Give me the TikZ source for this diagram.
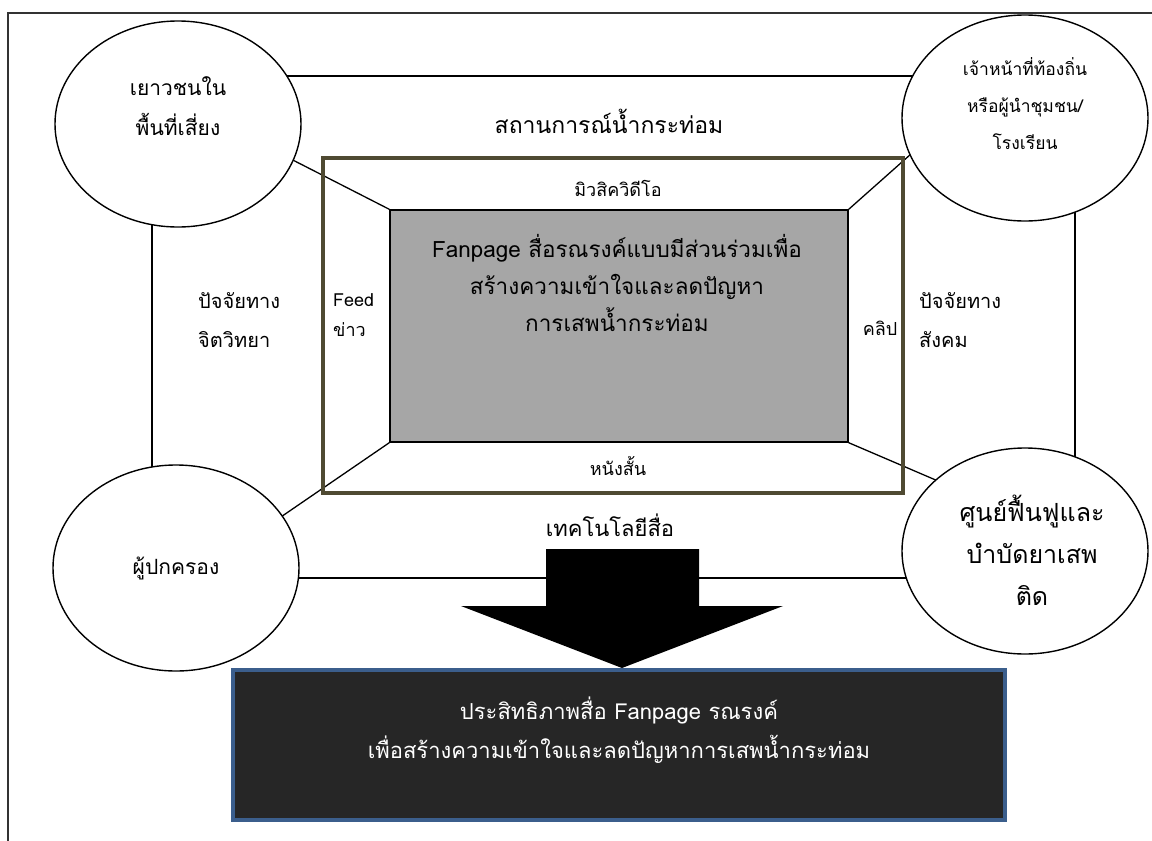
\documentclass[tikz,border=0pt]{standalone}
\usepackage{fontspec}
\setmainfont[Script=Thai]{Loma}
\usetikzlibrary{shapes.geometric}
\definecolor{olive}{HTML}{4F4A32}
\definecolor{grayfill}{HTML}{A6A6A6}
\definecolor{darkbox}{HTML}{262626}
\definecolor{boxblue}{HTML}{3B5E8C}
\definecolor{framegray}{HTML}{333333}
\tikzset{
  bubble/.style={ellipse, draw=black, fill=white, line width=1.4pt, minimum width=246pt, minimum height=206pt, inner sep=0pt},
  big/.style={font=\fontsize{21}{40}\selectfont, align=center, inner sep=0pt},
  mid/.style={font=\fontsize{20}{39}\selectfont, align=left, inner sep=0pt},
  small/.style={font=\fontsize{18}{30}\selectfont, align=left, inner sep=0pt},
  thinline/.style={line width=1.3pt, draw=black},
}
\begin{document}
\begin{tikzpicture}[x=1pt,y=-1pt]
\useasboundingbox (0,0) rectangle (1152,841);
% outer frame
\coordinate (fTL) at (8,13);
\coordinate (fTR) at (1152,13);
\coordinate (fBL) at (8,841);
\draw[framegray, line width=2pt] (fBL) -- (fTL) -- (fTR);
% big rectangle of connections
\coordinate (rTL) at (152,76);
\coordinate (rTR) at (1075,76);
\coordinate (rBR) at (1075,578);
\coordinate (rBL) at (152,578);
\draw[thinline] (rTL) -- (rTR) -- (rBR) -- (rBL) -- cycle;
% gray center box
\node[draw=black, line width=1.4pt, fill=grayfill, minimum width=458pt, minimum height=232pt, inner sep=0pt] (core) at (619,326) {};
% diagonals
\coordinate (dTL) at (283,155);
\coordinate (dTR) at (920,146);
\coordinate (dBL) at (275,521);
\coordinate (dBR) at (945,484);
\draw[thinline] (core.north west) -- (dTL);
\draw[thinline] (core.north east) -- (dTR);
\draw[thinline] (core.south west) -- (dBL);
\draw[thinline] (core.south east) -- (dBR);
% olive frame
\node[draw=olive, line width=4pt, minimum width=580pt, minimum height=335pt, inner sep=0pt] (media) at (613,325) {};
% ellipses
\node[bubble] (youth) at (178,124) {};
\node[bubble] (officer) at (1025,118) {};
\node[bubble] (parent) at (176,568) {};
\node[bubble] (rehab) at (1025,551) {};
% arrow
\coordinate (aTip) at (622,668);
\path[fill=black] (546,549) -- (699,549) -- (699,606) -- (783,606) -- (aTip) -- (461,606) -- (546,606) -- cycle;
% result box
\node[draw=boxblue, fill=darkbox, line width=4pt, minimum width=772pt, minimum height=150pt, inner sep=0pt] (result) at (619,745) {};
% texts
\node[big] (tyouth) at (178,106) {เยาวชนใน\\พื้นที่เสี่ยง};
\node[big, font=\fontsize{17.5}{37}\selectfont] (tofficer) at (1025,104) {เจ้าหน้าที่ท้องถิ่น\\หรือผู้นำชุมชน/\\โรงเรียน};
\node[big] (tparent) at (176,568) {ผู้ปกครอง};
\node[big, font=\fontsize{25}{42}\selectfont] (trehab) at (1032,550) {ศูนย์ฟื้นฟูและ\\บำบัดยาเสพ\\ติด};
\node[big, font=\fontsize{23}{40}\selectfont] (situation) at (609,121) {สถานการณ์น้ำกระท่อม};
\node[small] (music) at (618,188) {มิวสิควิดีโอ};
\node[small] (film) at (618,466) {หนังสั้น};
\node[small, anchor=west] (feed) at (333,315) {Feed\\ข่าว};
\node[small] (clip) at (880,328) {คลิป};
\node[mid, anchor=west] (psych) at (198,320) {ปัจจัยทาง\\จิตวิทยา};
\node[mid, anchor=west] (social) at (919,320) {ปัจจัยทาง\\สังคม};
\node[big, font=\fontsize{22}{40}\selectfont] (tech) at (610,525) {เทคโนโลยีสื่อ};
\node[big, font=\fontsize{22.5}{37}\selectfont] (tcore) at (617,283) {Fanpage สื่อรณรงค์แบบมีส่วนร่วมเพื่อ\\สร้างความเข้าใจและลดปัญหา\\การเสพน้ำกระท่อม};
\node[big, text=white, font=\fontsize{22}{39}\selectfont] (tresult) at (619,730) {ประสิทธิภาพสื่อ Fanpage รณรงค์\\เพื่อสร้างความเข้าใจและลดปัญหาการเสพน้ำกระท่อม};
\end{tikzpicture}
\end{document}
